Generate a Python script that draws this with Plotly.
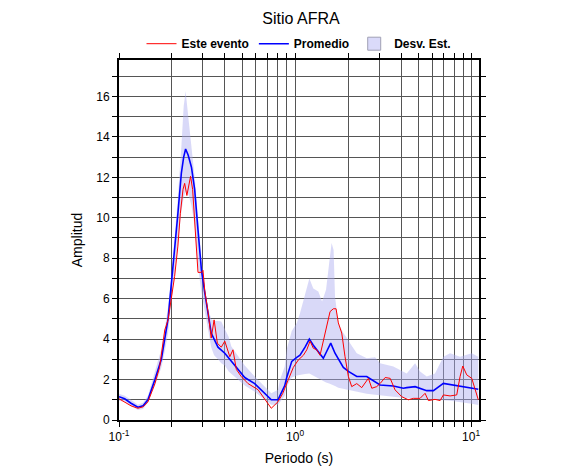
import plotly.graph_objects as go

# ---- data ----
promedio_T = [0.1, 0.1077, 0.117, 0.128, 0.137, 0.146, 0.160, 0.174, 0.190, 0.198, 0.207, 0.216,
              0.226, 0.233, 0.239, 0.247, 0.258, 0.269, 0.281, 0.294, 0.307, 0.321, 0.334, 0.365,
              0.399, 0.435, 0.475, 0.518, 0.590, 0.673, 0.733, 0.800, 0.822, 0.874, 0.897, 0.958,
              1.023, 1.067, 1.140, 1.206, 1.270, 1.356, 1.448, 1.514, 1.595, 1.687, 1.762, 1.881,
              2.009, 2.242, 2.554, 3.04, 3.62, 4.12, 4.31, 4.81, 5.60, 6.11, 6.96, 7.93, 9.04, 10.09, 10.99]
promedio_A = [1.15, 1.05, 0.83, 0.63, 0.70, 1.00, 2.00, 3.00, 5.00, 6.60, 8.60, 10.2,
              12.2, 13.0, 13.4, 13.1, 12.5, 11.4, 9.4, 7.4, 6.3, 5.3, 4.3, 3.6,
              3.3, 2.9, 2.5, 2.1, 1.8, 1.3, 1.0, 1.0, 1.2, 1.7, 2.1, 2.9,
              3.1, 3.2, 3.6, 4.0, 3.7, 3.4, 3.05, 3.4, 3.8, 3.3, 3.0, 2.6,
              2.4, 2.15, 2.15, 1.73, 1.68, 1.57, 1.6, 1.65, 1.45, 1.45, 1.81, 1.73, 1.62, 1.57, 1.52]

evento_T = [0.1, 0.1077, 0.117, 0.128, 0.137, 0.146, 0.160, 0.170, 0.182, 0.190, 0.198, 0.207,
            0.216, 0.223, 0.231, 0.236, 0.243, 0.250, 0.255, 0.262, 0.267, 0.2715, 0.281, 0.294,
            0.300, 0.307, 0.321, 0.334, 0.347, 0.362, 0.381, 0.399, 0.426, 0.444, 0.464, 0.495,
            0.541, 0.616, 0.673, 0.733, 0.800, 0.850, 0.916, 0.978, 1.044, 1.115, 1.166, 1.217,
            1.270, 1.328, 1.387, 1.448, 1.514, 1.581, 1.651, 1.710, 1.762, 1.842, 1.923, 2.009,
            2.099, 2.242, 2.393, 2.61, 2.73, 2.91, 3.04, 3.25, 3.47, 3.70, 4.04, 4.40,
            4.70, 5.13, 5.48, 5.72, 6.24, 6.67, 6.96, 7.60, 8.29, 8.66, 8.97, 9.45,
            10.09, 10.54, 10.99]
evento_A = [1.05, 0.90, 0.70, 0.58, 0.65, 0.90, 1.80, 2.60, 4.45, 4.95, 6.10, 7.10,
            8.60, 10.2, 11.4, 11.7, 11.1, 11.7, 12.05, 11.4, 10.2, 9.25, 7.30, 7.30,
            7.4, 6.4, 5.3, 4.05, 4.95, 3.8, 3.6, 3.9, 3.13, 3.47, 2.5, 2.15,
            1.8, 1.5, 1.0, 0.58, 0.9, 1.3, 2.0, 2.6, 2.97, 3.2, 3.47, 3.9,
            3.55, 3.47, 3.2, 3.96, 4.6, 5.36, 5.5, 5.5, 4.8, 4.3, 3.13, 2.15,
            1.65, 1.8, 1.6, 2.06, 1.57, 1.65, 1.8, 2.1, 2.06, 1.49, 1.15, 1.0,
            1.07, 1.07, 1.32, 0.96, 1.02, 0.96, 1.24, 1.19, 1.24, 2.15, 2.67, 2.23,
            2.06, 1.49, 1.0]

banda_T = [0.1, 0.1077, 0.117, 0.128, 0.137, 0.146, 0.160, 0.174, 0.182, 0.190, 0.198, 0.207,
           0.216, 0.226, 0.233, 0.239, 0.247, 0.258, 0.269, 0.281, 0.294, 0.307, 0.321, 0.334,
           0.347, 0.365, 0.381, 0.399, 0.420, 0.435, 0.475, 0.518, 0.590, 0.673, 0.733, 0.800,
           0.822, 0.874, 0.897, 0.958, 1.023, 1.067, 1.140, 1.206, 1.270, 1.356, 1.424, 1.50,
           1.563, 1.613, 1.656, 1.687, 1.762, 1.881, 2.009, 2.054, 2.242, 2.554, 2.85, 3.04,
           3.62, 4.31, 4.81, 5.13, 5.60, 6.24, 6.96, 7.60, 8.66, 10.09, 10.99]
banda_sup = [1.30, 1.20, 1.00, 0.75, 0.85, 1.20, 2.40, 3.50, 4.50, 5.60, 7.00, 9.00,
             11.0, 13.5, 15.5, 16.25, 15.2, 13.5, 12.0, 9.9, 8.0, 6.5, 5.5, 5.0,
             4.9, 4.9, 4.87, 4.5, 4.1, 3.63, 3.13, 2.7, 2.15, 1.65, 1.32, 1.49,
             2.0, 2.64, 3.5, 4.4, 4.8, 5.28, 6.2, 7.0, 6.5, 6.35, 5.86, 6.44,
             7.76, 8.75, 8.4, 6.1, 4.8, 4.3, 3.96, 3.8, 3.3, 3.05, 3.1, 2.8,
             2.64, 2.3, 2.8, 2.4, 2.15, 2.3, 3.13, 3.3, 3.13, 3.3, 3.13]
banda_inf = [0.95, 0.90, 0.70, 0.50, 0.55, 0.85, 1.70, 2.60, 3.40, 4.30, 5.80, 7.20,
             8.6, 10.3, 11.0, 11.3, 11.2, 10.6, 9.6, 7.6, 6.3, 5.4, 4.5, 3.6,
             3.2, 3.0, 2.8, 2.7, 2.4, 2.3, 2.0, 1.7, 1.4, 1.0, 0.75, 0.75,
             0.85, 1.2, 1.65, 2.1, 2.2, 2.23, 2.28, 2.3, 2.2, 2.06, 1.95, 1.85,
             1.8, 1.75, 1.7, 1.68, 1.6, 1.55, 1.49, 1.45, 1.4, 1.3, 1.25, 1.2,
             1.15, 1.07, 1.05, 1.05, 1.02, 1.0, 0.98, 0.95, 0.9, 0.8, 0.74]

x_tickvals = [0.1, 1, 10]
x_ticktext = ["10<sup>-1</sup>", "10<sup>0</sup>", "10<sup>1</sup>"]
x_minor = [0.2, 0.3, 0.4, 0.5, 0.6, 0.7, 0.8, 0.9, 2, 3, 4, 5, 6, 7, 8, 9]

BAND_FILL = "rgba(170,170,240,0.45)"

fig = go.Figure()
fig.add_trace(go.Scatter(
    x=banda_T + banda_T[::-1], y=banda_sup + banda_inf[::-1],
    fill="toself", fillcolor=BAND_FILL, mode="lines",
    line=dict(width=0), showlegend=False, hoverinfo="skip"))
fig.add_trace(go.Scatter(x=promedio_T, y=promedio_A, mode="lines",
                         line=dict(color="#0000ff", width=1.6), name="<b>Promedio</b>",
                         legendrank=2))
fig.add_trace(go.Scatter(x=evento_T, y=evento_A, mode="lines",
                         line=dict(color="#ff0000", width=1), name="<b>Este evento</b>",
                         legendrank=1))
# legend swatch for the band
fig.add_trace(go.Scatter(x=[None], y=[None], mode="markers", name="<b>Desv. Est.</b>",
                         marker=dict(symbol="square", size=13, color="rgb(218,218,250)",
                                     line=dict(color="rgb(160,160,180)", width=1)),
                         legendrank=3))

axis_common = dict(showline=True, linecolor="black", linewidth=2, mirror="allticks",
                   ticks="outside", ticklen=5, tickcolor="black", tickwidth=1,
                   showgrid=True, gridcolor="#555555", gridwidth=1, zeroline=False,
                   automargin=False, tickfont=dict(size=12, color="black"))

fig.update_xaxes(type="log", range=[-1, 1.045], tickvals=x_tickvals, ticktext=x_ticktext,
                 minor=dict(tickvals=x_minor, showgrid=True, gridcolor="#555555", gridwidth=1,
                            ticks="outside", ticklen=5, tickcolor="black"),
                 title=dict(text="Periodo (s)", font=dict(size=14, color="black"), standoff=10),
                 **axis_common)
fig.update_yaxes(range=[0, 17.8], dtick=2, tick0=0,
                 minor=dict(dtick=1, showgrid=True, gridcolor="#555555", gridwidth=1,
                            ticks="outside", ticklen=5, tickcolor="black"),
                 title=dict(text="Amplitud", font=dict(size=14, color="black"), standoff=10),
                 **axis_common)

fig.update_layout(
    width=586, height=475,
    margin=dict(l=111, r=115, t=52, b=63, autoexpand=False),
    paper_bgcolor="white", plot_bgcolor="white",
    font=dict(family="Liberation Sans, Arial, sans-serif", color="black"),
    title=dict(text="Sitio AFRA", x=0.5, xanchor="center", y=0.979, yanchor="middle",
               font=dict(size=16, color="black")),
    legend=dict(orientation="h", x=0.5, xanchor="center", y=1.005, yanchor="bottom",
                font=dict(size=12, color="black"), bgcolor="rgba(0,0,0,0)"),
    showlegend=True,
)

fig.write_html("out.html")
